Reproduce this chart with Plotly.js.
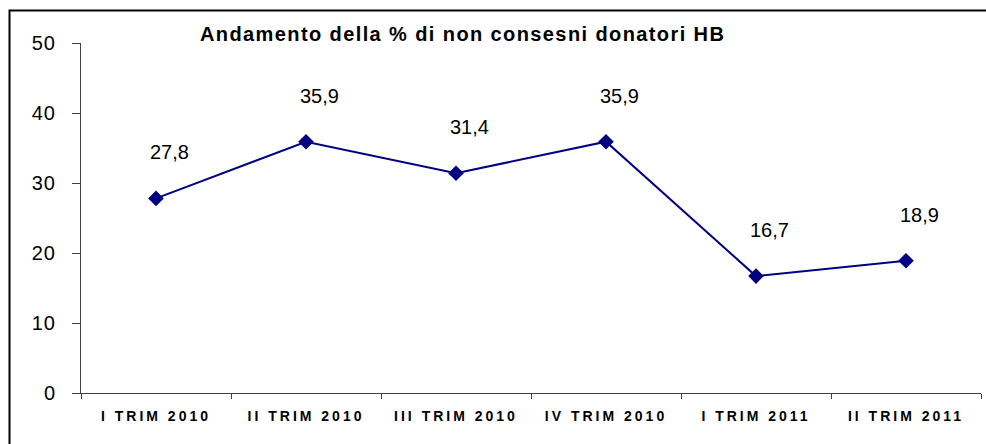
<!DOCTYPE html>
<html>
<head>
<meta charset="utf-8">
<script src="https://cdn.plot.ly/plotly-3.0.1.min.js"></script>
<style>
html,body{margin:0;padding:0;background:#fff;}
#chart{width:986px;height:444px;}
#chart .xtick text{letter-spacing:3px;}
#chart .gtitle{letter-spacing:1.4px;}
#chart .ytick text{letter-spacing:1px;}
</style>
</head>
<body>
<div id="chart"></div>
<script>
const categories = ["I TRIM 2010", "II TRIM 2010", "III TRIM 2010", "IV TRIM 2010", "I TRIM 2011", "II TRIM 2011"];
const values = [27.8, 35.9, 31.4, 35.9, 16.7, 18.9];
const valueLabels = ["27,8", "35,9", "31,4", "35,9", "16,7", "18,9"];
const titleText = "Andamento della % di non consesni donatori HB";

const FONT = "Liberation Sans, Arial, sans-serif";

const trace = {
  type: "scatter",
  mode: "lines+markers",
  x: categories,
  y: values,
  line: {color: "#000080", width: 2},
  marker: {symbol: "diamond", size: 12, color: "#000080"},
  hoverinfo: "skip"
};

const annotations = categories.map((c, i) => ({
  x: c, y: values[i], xref: "x", yref: "y",
  text: valueLabels[i], showarrow: false,
  xshift: 13, yshift: 46,
  font: {family: FONT, size: 20, color: "#000"}
}));

const layout = {
  width: 986, height: 444,
  margin: {l: 81, r: 5, t: 43, b: 51},
  paper_bgcolor: "#fff", plot_bgcolor: "#fff",
  showlegend: false,
  title: {
    text: titleText,
    xref: "container", yref: "container",
    x: 200/986, xanchor: "left",
    y: 1 - 34/444, yanchor: "middle",
    font: {family: FONT, size: 20, color: "#000", weight: "bold"}
  },
  xaxis: {
    type: "category",
    range: [-0.5, categories.length - 0.5],
    showline: true, linecolor: "#404040", linewidth: 1,
    ticks: "outside", ticklen: 5, tickcolor: "#404040",
    tickson: "boundaries",
    showgrid: false, zeroline: false,
    tickfont: {family: FONT, size: 14, color: "#000", weight: "bold"},
    ticklabelstandoff: 10
  },
  yaxis: {
    range: [0, 50], dtick: 10, tick0: 0,
    showline: true, linecolor: "#404040", linewidth: 1,
    ticks: "outside", ticklen: 8, tickcolor: "#404040",
    showgrid: false, zeroline: false,
    tickfont: {family: FONT, size: 20, color: "#000"},
    ticklabelstandoff: 12
  },
  annotations: annotations,
  shapes: [{
    type: "rect", xref: "paper", yref: "paper",
    x0: (9.5 - 81) / 900, x1: 1.1, y0: -0.3, y1: 1 + (43 - 10.5) / 350,
    line: {color: "#000", width: 2}, layer: "below"
  }]
};

Plotly.newPlot("chart", [trace], layout, {displayModeBar: false, staticPlot: true});
</script>
</body>
</html>
